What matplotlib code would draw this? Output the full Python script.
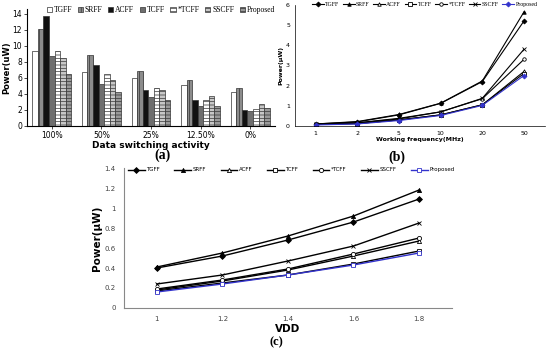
import numpy as np
import matplotlib.pyplot as plt

# panel (a): power vs data switching activity
activity = ['100%', '50%', '25%', '12.50%', '0%']
designs = ['TGFF', 'SRFF', 'ACFF', 'TCFF', '*TCFF', 'SSCFF', 'Proposed']
tgff_a = [9.4, 6.7, 6.0, 5.1, 4.3]
srff_a = [12.1, 8.9, 6.9, 5.7, 4.8]
acff_a = [13.7, 7.6, 4.5, 3.2, 2.0]
tcff_a = [8.8, 5.3, 3.6, 2.5, 1.9]
stcff_a = [9.4, 6.5, 4.7, 3.3, 2.1]
sscff_a = [8.5, 5.8, 4.5, 3.8, 2.7]
prop_a = [6.5, 4.3, 3.3, 2.5, 2.2]

# panel (b): power vs working frequency
freq = ['1', '2', '5', '10', '20', '50']
tgff_b = [0.10, 0.20, 0.55, 1.12, 2.20, 5.20]
srff_b = [0.10, 0.22, 0.57, 1.13, 2.23, 5.65]
acff_b = [0.08, 0.12, 0.30, 0.55, 1.05, 2.70]
tcff_b = [0.07, 0.12, 0.30, 0.55, 1.05, 2.60]
stcff_b = [0.08, 0.15, 0.35, 0.70, 1.35, 3.30]
sscff_b = [0.08, 0.16, 0.38, 0.70, 1.37, 3.80]
prop_b = [0.05, 0.10, 0.27, 0.52, 1.02, 2.50]

# panel (c): power vs VDD
vdd = ['1', '1.2', '1.4', '1.6', '1.8']
tgff_c = [0.40, 0.52, 0.68, 0.86, 1.09]
srff_c = [0.41, 0.55, 0.72, 0.92, 1.18]
acff_c = [0.18, 0.27, 0.38, 0.52, 0.67]
tcff_c = [0.17, 0.25, 0.33, 0.44, 0.57]
stcff_c = [0.19, 0.28, 0.39, 0.54, 0.70]
sscff_c = [0.24, 0.33, 0.47, 0.62, 0.85]
prop_c = [0.16, 0.24, 0.33, 0.43, 0.55]

plt.rcParams['hatch.linewidth'] = 0.5
fig = plt.figure(figsize=(5.5, 3.49), dpi=100)

# ---------- (a) ----------
ax1 = fig.add_axes([0.049, 0.639, 0.451, 0.335])
bars = [tgff_a, srff_a, acff_a, tcff_a, stcff_a, sscff_a, prop_a]
faces = ['white', '#8c8c8c', '#111111', '#6e6e6e', 'white', '#c8c8c8', '#9a9a9a']
hatches = [None, '||||', None, None, '-----', '-----', '-----']
x = np.arange(len(activity))
w = 0.112
for i in range(len(bars)):
    ax1.bar(x + (i - 3) * w, bars[i], w, color=faces[i], edgecolor='#333333',
            linewidth=0.5, hatch=hatches[i], label=designs[i])
ax1.set_xlim(-0.5, 4.5)
ax1.set_ylim(0, 14.6)
ax1.set_yticks(range(0, 15, 2))
ax1.set_xticks(x)
ax1.set_xticklabels(activity)
ax1.tick_params(labelsize=5.5, length=2, width=0.5, pad=1.5)
ax1.spines['top'].set_visible(False)
ax1.spines['right'].set_visible(False)
ax1.set_ylabel('Power(uW)', fontsize=6, fontweight='bold', labelpad=1)
ax1.set_xlabel('Data switching activity', fontsize=6.5, fontweight='bold', labelpad=0.5)
ax1.legend(loc='upper center', bbox_to_anchor=(0.54, 1.07), ncol=7, frameon=False,
           prop={'family': 'Liberation Serif', 'size': 5.5}, handlelength=0.7,
           handleheight=0.7, handletextpad=0.25, columnspacing=0.7, borderpad=0.2)
fig.text(0.296, 0.545, '(a)', fontsize=10, fontweight='bold', family='Liberation Serif', ha='center')

# ---------- (b) ----------
ax2 = fig.add_axes([0.536, 0.639, 0.4545, 0.347])
xb = np.arange(len(freq))
series_b = [tgff_b, srff_b, acff_b, tcff_b, stcff_b, sscff_b, prop_b]
markers = ['D', '^', '^', 's', 'o', 'x', 'D']
mfill = ['black', 'black', 'white', 'white', 'white', 'black', '#3333cc']
colors = ['black', 'black', 'black', 'black', 'black', 'black', '#3333cc']
for i in range(len(series_b)):
    ax2.plot(xb, series_b[i], color=colors[i], marker=markers[i], markersize=2.5,
             markerfacecolor=mfill[i], markeredgewidth=0.6, linewidth=0.8, label=designs[i])
ax2.set_xlim(-0.5, 5.5)
ax2.set_ylim(0, 6)
ax2.set_xticks(xb)
ax2.set_xticklabels(freq)
ax2.tick_params(labelsize=4.5, length=0)
ax2.spines['top'].set_visible(False)
ax2.spines['right'].set_visible(False)
for s in ['left', 'bottom']:
    ax2.spines[s].set_linewidth(0.5)
ax2.set_ylabel('Power(μW)', fontsize=4.5, fontweight='bold', labelpad=2)
ax2.set_xlabel('Working frequency(MHz)', fontsize=4.5, fontweight='bold', labelpad=1)
ax2.legend(loc='upper center', bbox_to_anchor=(0.52, 1.06), ncol=7, frameon=False,
           prop={'family': 'Liberation Serif', 'size': 4.2}, handlelength=2.0,
           handletextpad=0.25, columnspacing=0.6, borderpad=0.2)
fig.text(0.722, 0.54, '(b)', fontsize=10, fontweight='bold', family='Liberation Serif', ha='center')

# ---------- (c) ----------
ax3 = fig.add_axes([0.2255, 0.1175, 0.596, 0.401])
xc = np.arange(len(vdd))
series_c = [tgff_c, srff_c, acff_c, tcff_c, stcff_c, sscff_c, prop_c]
mk_c = ['D', '^', '^', 's', 'o', 'x', 's']
mf_c = ['black', 'black', 'white', 'white', 'white', 'black', 'white']
for i in range(len(series_c)):
    ax3.plot(xc, series_c[i], color=colors[i], marker=mk_c[i], markersize=3,
             markerfacecolor=mf_c[i], markeredgewidth=0.6, linewidth=1.0, label=designs[i])
ax3.set_xlim(-0.5, 4.5)
ax3.set_ylim(0, 1.4)
ax3.set_yticks([0, 0.2, 0.4, 0.6, 0.8, 1, 1.2, 1.4])
ax3.set_yticklabels(['0', '0.2', '0.4', '0.6', '0.8', '1', '1.2', '1.4'])
ax3.set_xticks(xc)
ax3.set_xticklabels(vdd)
ax3.tick_params(labelsize=5, length=0, labelcolor='#444444', pad=6)
ax3.spines['top'].set_visible(False)
ax3.spines['right'].set_visible(False)
for s in ['left', 'bottom']:
    ax3.spines[s].set_color('#888888')
    ax3.spines[s].set_linewidth(0.8)
ax3.set_ylabel('Power(μW)', fontsize=7.5, fontweight='bold', labelpad=2)
ax3.set_xlabel('VDD', fontsize=7.5, fontweight='bold', labelpad=1)
ax3.legend(loc='upper center', bbox_to_anchor=(0.51, 1.04), ncol=7, frameon=False,
           prop={'size': 4}, handlelength=3, handletextpad=0.3, columnspacing=2.6)
fig.text(0.502, 0.01, '(c)', fontsize=9, fontweight='bold', family='Liberation Serif', ha='center')

fig.savefig('out.png', dpi=100)
